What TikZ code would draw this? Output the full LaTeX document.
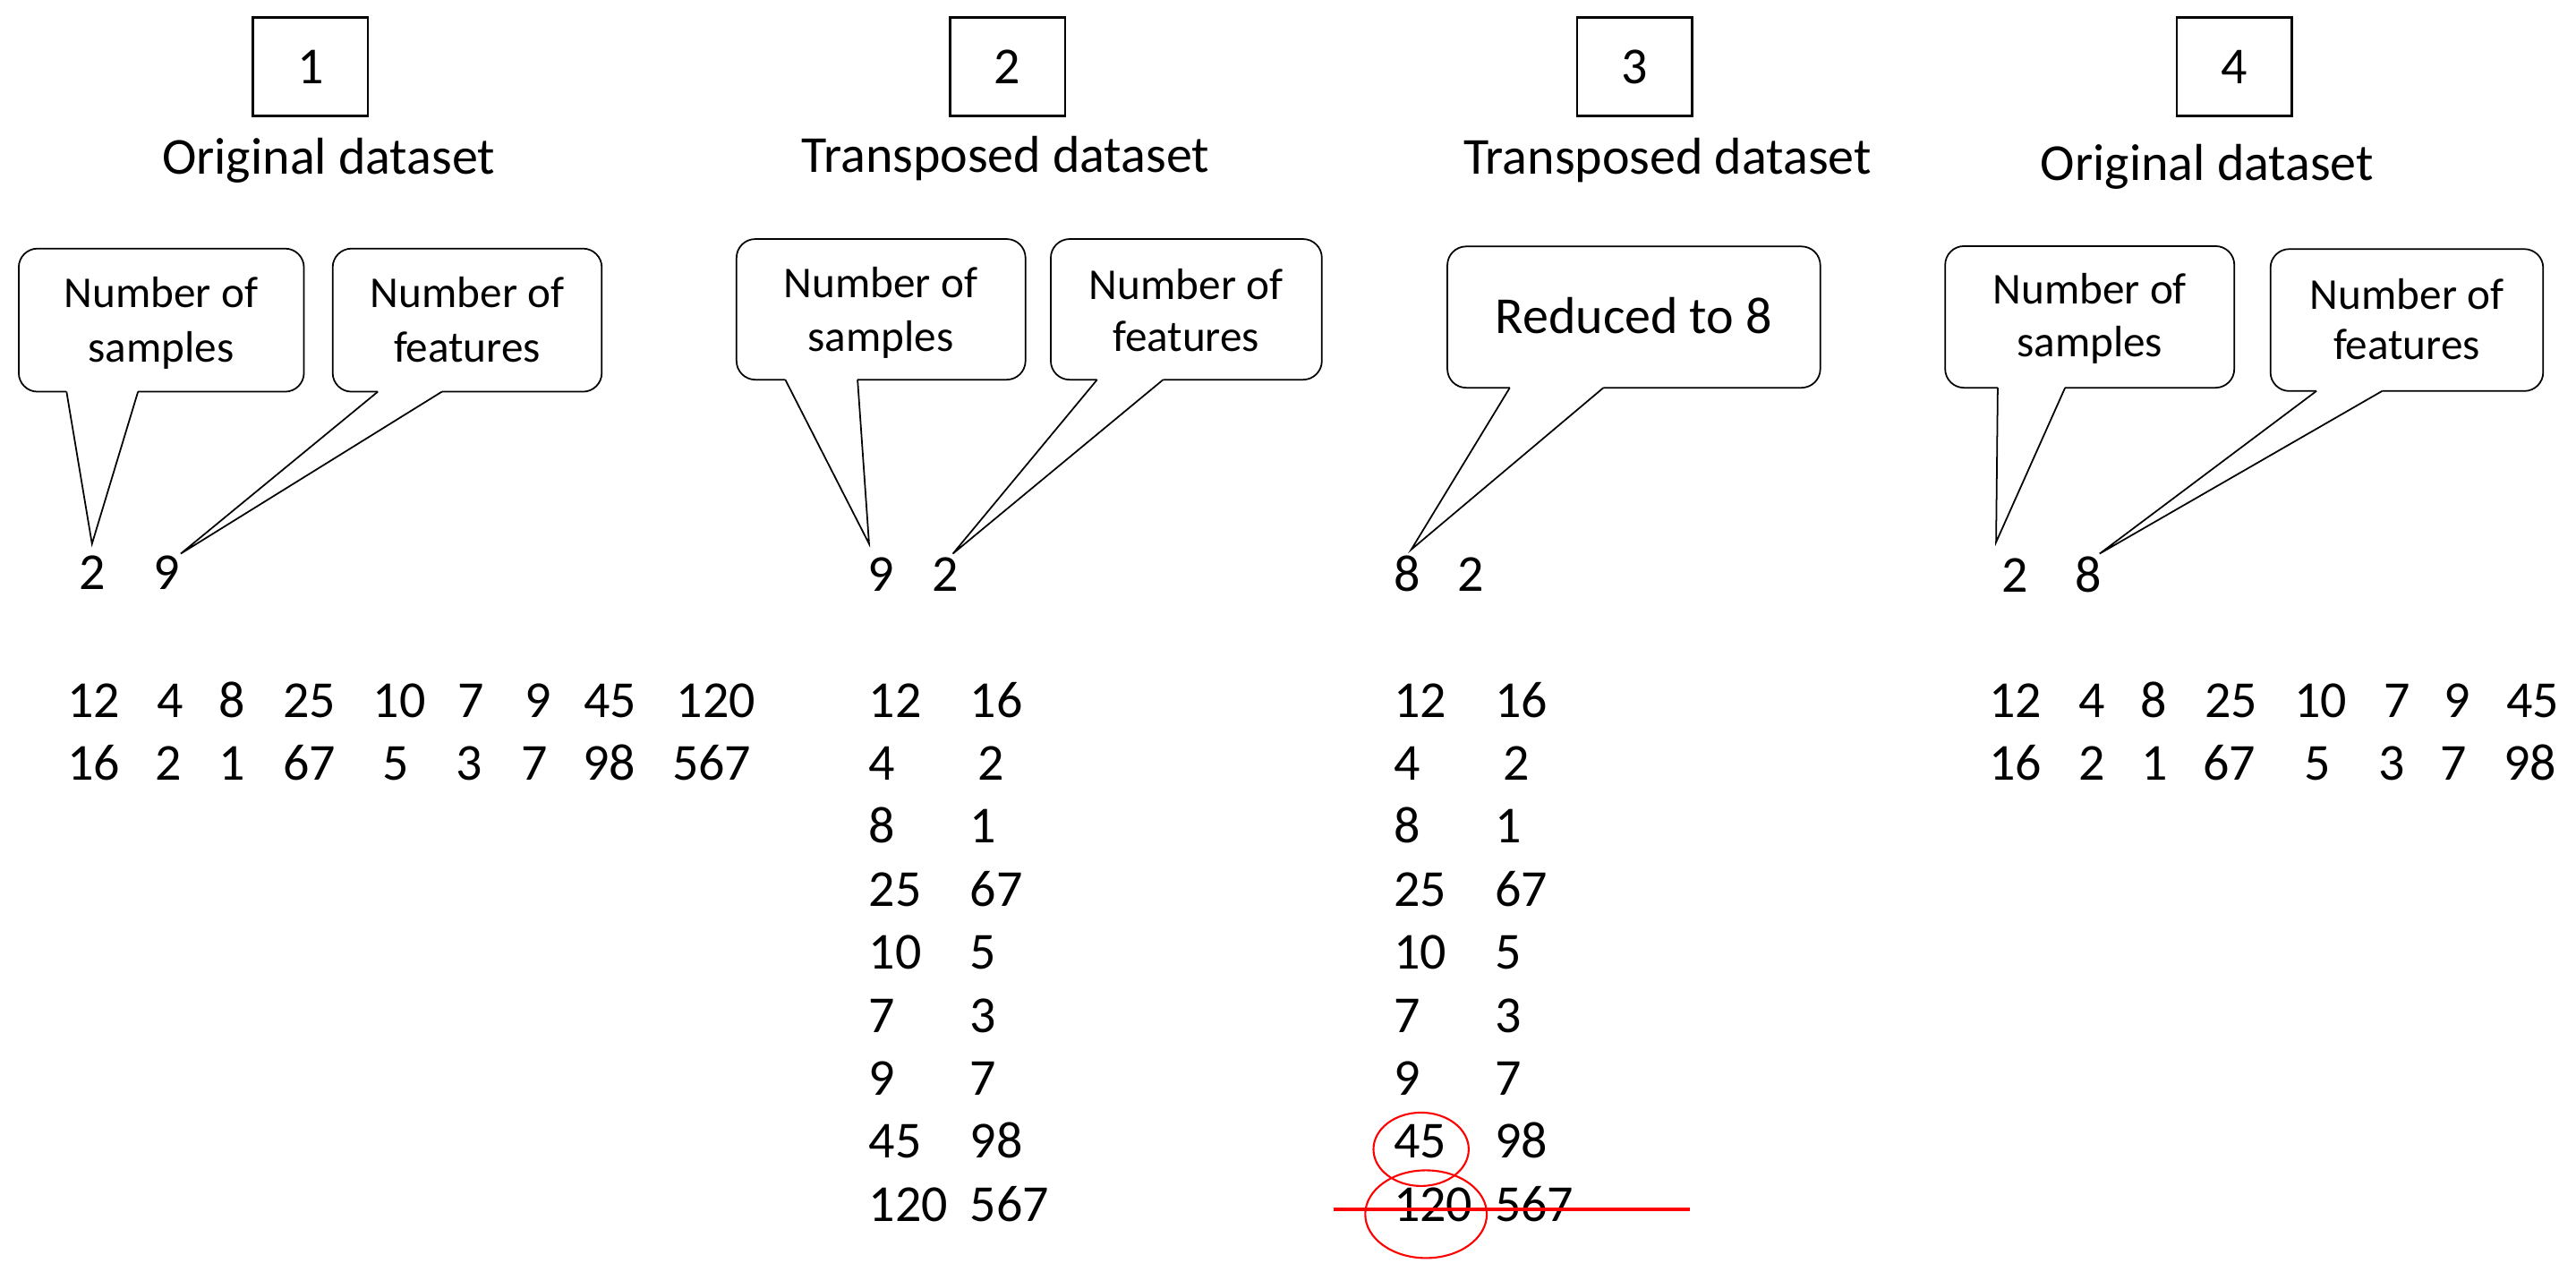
\documentclass[tikz,border=0pt]{standalone}
\usepackage{fontspec}
\setmainfont{Carlito}
\newcommand\mybubble[7]{%
  \draw[bubbleline] (#5,#4) -- (#1,#4) -- (#1,#2) -- (#3,#2) -- (#3,#4) -- (#6,#4);
  \draw[tailline] (#6,#4) -- (#7) -- (#5,#4);}
\begin{document}
\begin{tikzpicture}[x=0.018355cm, y=-0.018355cm,
  bigtext/.style={font=\fontsize{16.5}{20}\selectfont, inner sep=0pt},
  smalltext/.style={font=\fontsize{14}{17}\selectfont, inner sep=0pt, anchor=base},
  numtxt/.style={bigtext, anchor=base west},
  titletxt/.style={bigtext, anchor=base},
  numbox/.style={bigtext, draw, line width=0.7pt, minimum width=1.285cm, minimum height=1.101cm},
  bubbleline/.style={line width=0.5pt, rounded corners=0.21cm},
  tailline/.style={line width=0.5pt, line join=miter},
  redring/.style={draw=red, line width=0.6pt},
  strike/.style={draw=red, line width=1.2pt}]
\useasboundingbox (0,0) rectangle (1568,774);

% numbered boxes
\node[numbox] (b1) at (189,40.6) {1};
\node[numbox] (b2) at (613.2,40.6) {2};
\node[numbox] (b3) at (995,40.6) {3};
\node[numbox] (b4) at (1360,40.6) {4};

% titles
\node[titletxt] (t1) at (200,105.8) {Original dataset};
\node[titletxt] (t2) at (612,105.1) {Transposed dataset};
\node[titletxt] (t3) at (1015,105.8) {Transposed dataset};
\node[titletxt] (t4) at (1343.5,110) {Original dataset};

% tips
\coordinate (tip1s) at (56,331);
\coordinate (tip1f) at (110,337);
\coordinate (tip2s) at (529,331);
\coordinate (tip2f) at (580,337);
\coordinate (tip3) at (859,334.5);
\coordinate (tip4s) at (1215,330);
\coordinate (tip4f) at (1278,337);

% callouts
\mybubble{11.4}{151.3}{185}{238.4}{40.5}{84}{tip1s}
\node[smalltext] (c1sa) at (98,187.3) {Number of};
\node[smalltext] (c1sb) at (98,220.2) {samples};
\mybubble{202.5}{151.3}{366.3}{238.4}{230}{269}{tip1f}
\node[smalltext] (c1fa) at (284.4,187.3) {Number of};
\node[smalltext] (c1fb) at (284.4,220.2) {features};

\mybubble{448.3}{145.5}{624.2}{231.1}{478}{522}{tip2s}
\node[smalltext] (c2sa) at (536,181.3) {Number of};
\node[smalltext] (c2sb) at (536,214.1) {samples};
\mybubble{639.6}{145.5}{804.6}{231.1}{667.8}{708}{tip2f}
\node[smalltext] (c2fa) at (722,182) {Number of};
\node[smalltext] (c2fb) at (722,214.1) {features};

\mybubble{881}{150}{1108}{236}{919}{976}{tip3}
\node[titletxt] (c3) at (994.5,203) {Reduced to 8};

\mybubble{1184}{149.8}{1360}{236}{1216}{1257}{tip4s}
\node[smalltext] (c4sa) at (1272,185.2) {Number of};
\node[smalltext] (c4sb) at (1272,217) {samples};
\mybubble{1382}{151.6}{1548}{238}{1410}{1450}{tip4f}
\node[smalltext] (c4fa) at (1465,188) {Number of};
\node[smalltext] (c4fb) at (1465,218.8) {features};

% shapes
\node[numtxt] (d1a) at (48,359) {2};
\node[numtxt] (d1b) at (93,359) {9};
\node[numtxt] (d2a) at (528,360) {9};
\node[numtxt] (d2b) at (567,360) {2};
\node[numtxt] (d3a) at (848,360) {8};
\node[numtxt] (d3b) at (887,360) {2};
\node[numtxt] (d4a) at (1218,360.5) {2};
\node[numtxt] (d4b) at (1263,360.5) {8};

% panel 1 data
\foreach \v/\x [count=\i] in {12/42.2, 4/96.9, 8/134.5, 25/173.5, 10/228.3, 7/279.9, 9/320.5, 45/356.5, 120/412.8}
  \node[numtxt] (p1a\i) at (\x-1.5,436.5) {\v};
\foreach \v/\x [count=\i] in {16/42.2, 2/95.4, 1/134.1, 67/173.5, 5/233.9, 3/278.9, 7/318.4, 98/355.8, 567/410.3}
  \node[numtxt] (p1b\i) at (\x-1.5,474.85) {\v};

% panel 4 data
\foreach \v/\x [count=\i] in {12/1211.8, 4/1266.2, 8/1304.1, 25/1343.3, 10/1397.7, 7/1452.1, 9/1488.8, 45/1526.7}
  \node[numtxt] (p4a\i) at (\x-1.5,436.5) {\v};
\foreach \v/\x [count=\i] in {16/1211.8, 2/1266.2, 1/1304.4, 67/1342, 5/1403.5, 3/1449, 7/1486.5, 98/1525}
  \node[numtxt] (p4b\i) at (\x-1.5,474.85) {\v};

% panels 2 and 3 data (transposed)
\foreach \a/\b/\o [count=\k from 0] in {12/16/0, 4/2/5, 8/1/0, 25/67/0, 10/5/0, 7/3/0, 9/7/0, 45/98/0, 120/567/0}{
  \node[numtxt] (p2l\k) at (528.5,436.5+38.35*\k) {\a};
  \node[numtxt] (p2r\k) at (590+\o,436.5+38.35*\k) {\b};
  \node[numtxt] (p3l\k) at (848,436.5+38.35*\k) {\a};
  \node[numtxt] (p3r\k) at (909.5+\o,436.5+38.35*\k) {\b};
}

% red marks
\draw[redring] (865,699.5) ellipse [x radius=0.532cm, y radius=0.410cm];
\draw[redring] (868,739) ellipse [x radius=0.679cm, y radius=0.490cm];
\coordinate (sl) at (811.7,736);
\coordinate (sr) at (1028.6,736);
\draw[strike] (sl) -- (sr);
\end{tikzpicture}
\end{document}
